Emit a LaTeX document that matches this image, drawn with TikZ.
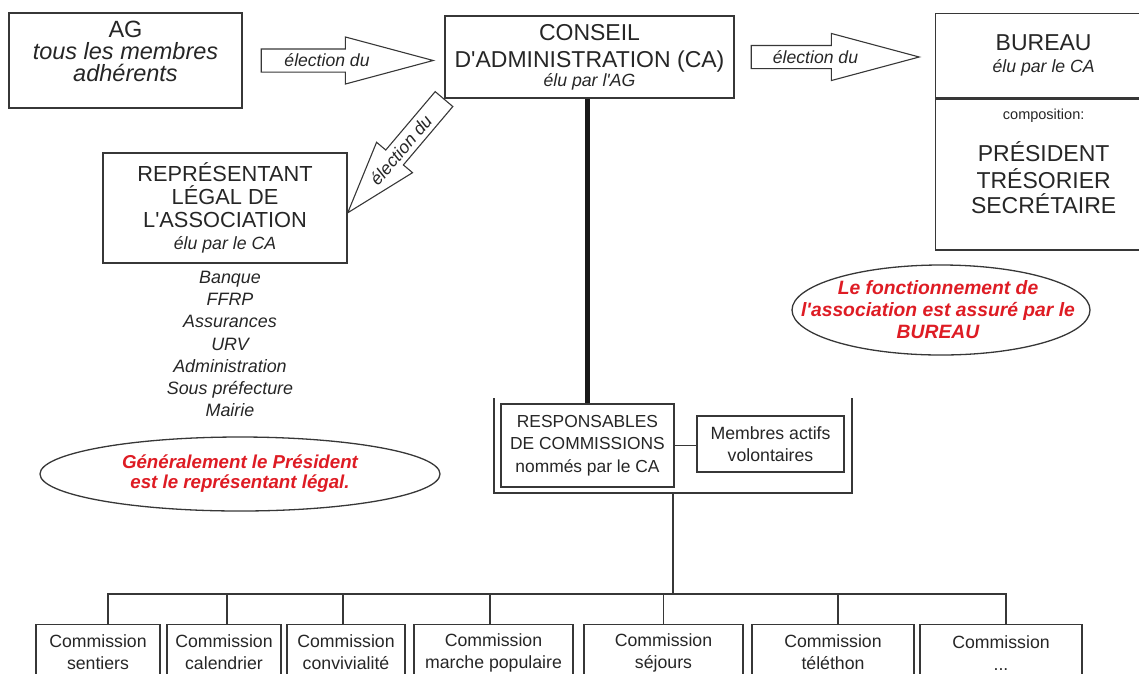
\documentclass[tikz,border=0pt]{standalone}
\usepackage{fontspec}
\setmainfont{Liberation Sans}
\usetikzlibrary{calc,shapes.geometric,shapes.arrows}
\definecolor{linegray}{RGB}{55,55,55}
\definecolor{notered}{RGB}{222,28,36}

\begin{document}
\begin{tikzpicture}[x=1pt, y=-1pt,
  box/.style = {rectangle, draw=linegray, line width=1.3pt, inner sep=0pt, align=center, text=black!85},
  txt/.style = {inner sep=0pt, align=center, text=black!85},
  big/.style = {font={\fontsize{23}{23}\selectfont\lineskiplimit=-50pt}},
  small/.style = {font={\fontsize{17.7}{22}\selectfont\lineskiplimit=-50pt}},
  note/.style = {ellipse, draw=linegray, line width=1.3pt, inner sep=0pt},
  notetext/.style = {inner sep=0pt, align=center, text=notered, font={\bfseries\itshape\fontsize{18.7}{20}\selectfont\lineskiplimit=-50pt}},
  elect/.style = {single arrow, draw=linegray, line width=1.1pt, inner xsep=0pt, inner ysep=11pt, single arrow head extend=12pt, anchor=tail},
  electtext/.style = {inner sep=0pt, text=black!85, font={\itshape\fontsize{17.6}{20}\selectfont}},
  link/.style = {draw=linegray, line width=1.3pt},
]
\clip (0,0) rectangle (1139,673);

\node[box, minimum width=233, minimum height=95] (ag) at (125.5,60.5) {};
\node[txt, font={\fontsize{23.5}{22}\selectfont\lineskiplimit=-50pt}] (agtext) at (125.5,51.5) {AG\\\textit{tous les membres}\\\textit{adhérents}};

\node[box, big, minimum width=289, minimum height=82] (ca) at (589.5,57) {CONSEIL\\[4pt]D\textquotesingle ADMINISTRATION (CA)\\[-4pt]{\itshape\fontsize{17.7}{20}\selectfont élu par l\textquotesingle AG}};

\node[box, big, minimum width=216, minimum height=84, anchor=north west] (bureau) at (935,13) {BUREAU\\[-1pt]{\itshape\fontsize{17.7}{20}\selectfont élu par le CA}};
\node[box, minimum width=216, minimum height=151, anchor=north] (compo) at (bureau.south) {};
\node[txt, big, anchor=north] (bureaulist) at ([yshift=-10.5pt]compo.north) {{\fontsize{14.5}{16}\selectfont composition:}\\[19pt]PRÉSIDENT\\[4pt]TRÉSORIER\\[2pt]SECRÉTAIRE};

% election arrows
\node[elect, single arrow tip angle=30, minimum height=172] (electca) at ([xshift=18pt]ag.east) {};
\node[electtext] at ($(electca.tail)!0.38!(electca.tip)$) {élection du};
\node[elect, single arrow tip angle=30, minimum height=168] (electbureau) at ([xshift=16pt]ca.east) {};
\node[electtext] at ($(electbureau.tail)!0.38!(electbureau.tip)$) {élection du};
\node[elect, single arrow tip angle=36, minimum height=149, rotate=229.75] (electrep) at (ca.south west) {};
\node[electtext, rotate=49.75] at ($(electrep.tail)!0.445!(electrep.tip)$) {élection du};

\node[box, minimum width=244, minimum height=110, font={\fontsize{21.8}{23}\selectfont\lineskiplimit=-50pt}] (rep) at (225,208) {REPRÉSENTANT\\LÉGAL DE\\L\textquotesingle ASSOCIATION\\[-1pt]{\itshape\fontsize{17.7}{20}\selectfont élu par le CA}};
\node[txt, anchor=north, font={\itshape\fontsize{17.9}{22.3}\selectfont\lineskiplimit=-50pt}] (partners) at ([xshift=5pt,yshift=-7pt]rep.south) {Banque\\FFRP\\Assurances\\URV\\Administration\\Sous préfecture\\Mairie};

\node[note, minimum width=400, minimum height=74] (note1) at (240,474) {};
\node[notetext] at (note1) {Généralement le Président\\est le représentant légal.};
\node[note, minimum width=298, minimum height=90] (note2) at (941,310) {};
\node[notetext, font={\bfseries\itshape\fontsize{19.3}{22}\selectfont\lineskiplimit=-50pt}] at ([xshift=-3pt]note2) {Le fonctionnement de\\l\textquotesingle association est assuré par le\\BUREAU};

\node[box, minimum width=173, minimum height=83, font={\fontsize{17.4}{22.5}\selectfont\lineskiplimit=-50pt}] (resp) at (587.5,445.5) {RESPONSABLES\\DE COMMISSIONS\\nommés par le CA};
\node[box, small, minimum width=147, minimum height=56] (membres) at (770.5,444) {Membres actifs\\volontaires};

\draw[line width=5pt, black!90] (resp.north |- ca.south) -- (resp.north);
\draw[link] (resp.east) -- (resp.east -| membres.west);

\coordinate (brL) at (494,398);
\coordinate (brR) at (852,398);
\coordinate (brB) at (673,493);
\coordinate (bus) at (673,594);
\draw[link] (brL) |- (brB) -| (brR);
\draw[link] (brB) -- (bus);

\node[box, small, minimum width=124, minimum height=56, anchor=north] (csentiers) at (98,624) {Commission\\sentiers};
\node[box, small, minimum width=114, minimum height=56, anchor=north] (ccalendrier) at (224,624) {Commission\\calendrier};
\node[box, small, minimum width=118, minimum height=56, anchor=north] (cconviv) at (346,624) {Commission\\convivialité};
\node[box, small, minimum width=159, minimum height=56, anchor=north] (cmarche) at (493.5,624) {Commission\\marche populaire};
\node[box, small, minimum width=159, minimum height=56, anchor=north] (csejours) at (663.5,624) {Commission\\séjours};
\node[box, small, minimum width=162, minimum height=56, anchor=north] (ctelethon) at (833,624) {Commission\\téléthon};
\node[box, small, minimum width=162, minimum height=56, anchor=north] (cautres) at (1001,624) {Commission\\...};

\draw[link] ([xshift=10pt]csentiers.north) |- (bus);
\draw[link] ([xshift=3pt]ccalendrier.north) |- (bus);
\draw[link] ([xshift=-3pt]cconviv.north) |- (bus);
\draw[link] ([xshift=-3.5pt]cmarche.north) |- (bus);
\draw[link] (csejours.north) |- (bus);
\draw[link] ([xshift=5pt]ctelethon.north) |- (bus);
\draw[link] ([xshift=5pt]cautres.north) |- (bus);

\end{tikzpicture}
\end{document}
